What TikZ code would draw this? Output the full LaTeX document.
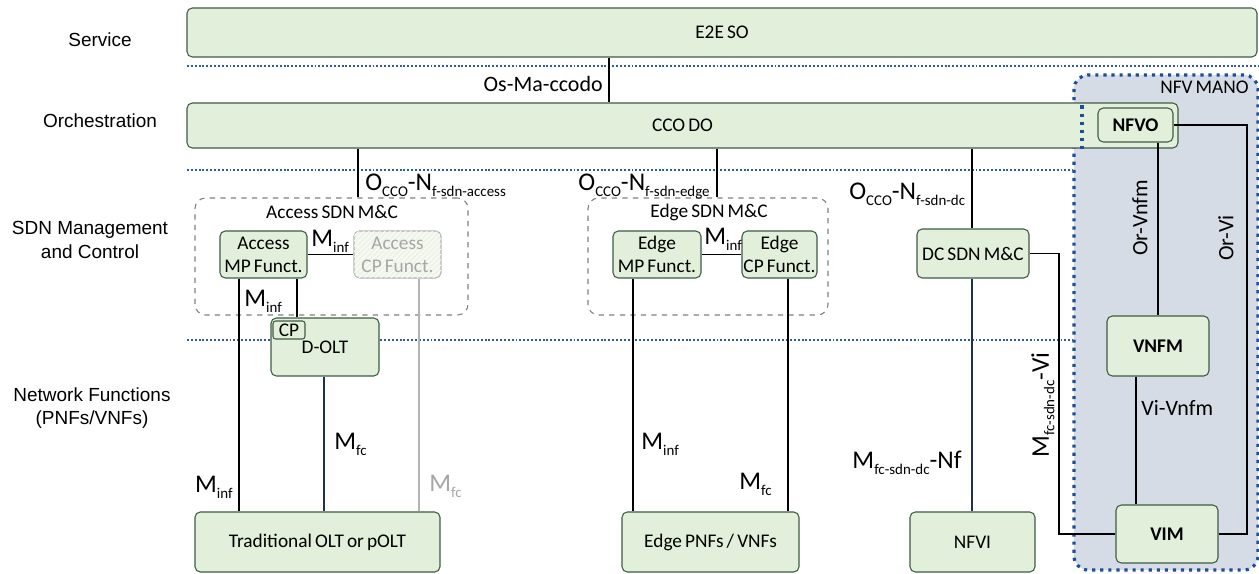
\documentclass[tikz,border=0pt]{standalone}
\usepackage{fontspec}
\setmainfont{Carlito}[WordSpace=0.7]
\newfontfamily\layerfont{Liberation Sans}
\usetikzlibrary{patterns}

\definecolor{boxfill}{HTML}{E2EFDA}
\definecolor{boxline}{HTML}{3E5A44}
\definecolor{manofill}{HTML}{D6DCE5}
\definecolor{manoline}{HTML}{1F4E99}
\definecolor{layerline}{HTML}{2E5C9E}
\definecolor{navyline}{HTML}{1F2F4F}
\definecolor{fadedline}{HTML}{B4B4B4}
\definecolor{fadedtext}{HTML}{A6A6A6}
\definecolor{fadedfill}{HTML}{EEF4E8}
\definecolor{groupline}{HTML}{7F7F7F}

% lowered subscript in the label font
\newcommand\lsub[1]{\raisebox{-0.45ex}{\fontsize{8.5}{9}\selectfont #1}}
% rectangle node given by its corners: style, name, x1, y1, x2, y2, text
\newcommand\pxbox[7]{%
  \node[#1, minimum width={(#5-#3)*0.02cm}, minimum height={(#6-#4)*0.02cm}]
    (#2) at ({(#3+#5)/2},{(#4+#6)/2}) {#7};}

\tikzset{
  box/.style={draw=boxline, fill=boxfill, rounded corners=3pt, line width=0.6pt,
    inner sep=0pt, font=\fontsize{11}{13}\selectfont, align=center},
  boldbox/.style={box, font=\fontsize{11}{13}\selectfont\bfseries},
  fadedbox/.style={box, draw=fadedline, fill=fadedfill, text=fadedtext,
    postaction={pattern=north east lines, pattern color=white}},
  group/.style={draw=groupline, dashed, rounded corners=6pt, line width=0.6pt, inner sep=0pt},
  grouptitle/.style={inner sep=0pt, font=\fontsize{11}{13}\selectfont},
  conn/.style={line width=1.1pt, black},
  layersep/.style={draw=layerline, line width=1.1pt, dash pattern=on 1.1pt off 1.1pt},
  manoborder/.style={draw=manoline, line width=1.8pt, dash pattern=on 1.8pt off 2.8pt},
  manoarea/.style={fill=manofill, rounded corners=8pt, inner sep=0pt},
  lbl/.style={inner sep=0pt, font=\fontsize{14.5}{15}\selectfont},
  ilbl/.style={inner sep=0pt, font=\fontsize{12.5}{14}\selectfont},
  layer/.style={inner sep=0pt, font=\layerfont\fontsize{10.8}{13.5}\selectfont, align=center}
}

\begin{document}
\begin{tikzpicture}[x=0.02cm, y=-0.02cm]
\useasboundingbox (0,0) rectangle (1259,574);

% layer names
\node[layer] (lyService) at (100,40) {Service};
\node[layer] (lyOrch) at (100,121) {Orchestration};
\node[layer] (lySdn) at (90,240) {SDN Management\\and Control};
\node[layer] (lyNf) at (92,408) {Network Functions\\(PNFs/VNFs)};

% NFV MANO area
\pxbox{manoarea, manoborder}{mano}{1074}{75}{1258}{570}{}
\node[inner sep=0pt, anchor=east, font=\fontsize{11}{13}\selectfont] (lMano) at (1249,87) {NFV MANO};

% layer separators
\draw[layersep] (187,66) -- (1259,66);
\draw[layersep] (187,170) -- (mano.west |- 0,170);
\draw[layersep] (187,340) -- (mano.west |- 0,340);

% x positions of the vertical connectors
\coordinate (xOs) at (609,0);
\coordinate (xAcc) at (358,0);
\coordinate (xEdg) at (717,0);
\coordinate (xDC) at (972,0);
\coordinate (xMPtrad) at (239,0);
\coordinate (xMPdolt) at (297,0);
\coordinate (xDoltTrad) at (324,0);
\coordinate (xCPtrad) at (419,0);
\coordinate (xEMP) at (633,0);
\coordinate (xECP) at (788,0);
\coordinate (xNfvoVnfm) at (1158,0);
\coordinate (xVnfmVim) at (1136,0);
\coordinate (xDV) at (1059,0);
\coordinate (xOV) at (1247,0);
\coordinate (xMano) at (1082,0);

% top layers
\pxbox{box}{e2e}{187}{8}{1257}{57}{E2E SO}
\pxbox{box}{cco}{187}{103}{1178}{148}{CCO DO}
\draw[manoborder] (cco.north -| xMano) ++(0,3) -- (cco.south -| xMano);
\pxbox{boldbox}{nfvo}{1098}{108}{1173}{142}{NFVO}

% SDN groups
\pxbox{group}{accgrp}{195}{198}{468}{315}{}
\node[grouptitle] (accgrpT) at (332,212) {Access SDN M\&C};
\pxbox{group}{edggrp}{588}{198}{828}{315}{}
\node[grouptitle] (edggrpT) at (709,212) {Edge SDN M\&C};

\pxbox{box}{accmp}{220}{231}{307}{278}{Access\\MP Funct.}
\pxbox{fadedbox}{acccp}{354}{231}{441}{278}{Access\\CP Funct.}
\pxbox{box}{edgmp}{613}{231}{701}{278}{Edge\\MP Funct.}
\pxbox{box}{edgcp}{742}{231}{817}{278}{Edge\\CP Funct.}
\pxbox{box}{dc}{917}{229}{1029}{278}{DC SDN M\&C}

% D-OLT with its CP part
\pxbox{box}{dolt}{271}{318}{379}{376}{D-OLT}
\pxbox{box, rounded corners=1.5pt}{cp}{273}{321}{305}{339}{CP}

% MANO blocks
\pxbox{boldbox}{vnfm}{1107}{316}{1209}{376}{VNFM}
\pxbox{boldbox}{vim}{1116}{505}{1218}{563}{VIM}

% network functions
\pxbox{box}{trad}{195}{512}{440}{572}{Traditional OLT or pOLT}
\pxbox{box}{edgpnf}{622}{512}{799}{572}{Edge PNFs / VNFs}
\pxbox{box}{nfvi}{910}{512}{1035}{572}{NFVI}

% connectors
\draw[conn] (e2e.south -| xOs) -- (cco.north -| xOs);
\draw[conn] (cco.south -| xAcc) -- (accgrp.north -| xAcc);
\draw[conn] (cco.south -| xEdg) -- (edggrp.north -| xEdg);
\draw[conn] (cco.south -| xDC) -- (dc.north -| xDC);
\draw[conn] (accmp.east) -- (acccp.west);
\draw[conn] (edgmp.east) -- (edgcp.west);
\draw[conn] (accmp.south -| xMPtrad) -- (trad.north -| xMPtrad);
\draw[conn] (accmp.south -| xMPdolt) -- (dolt.north -| xMPdolt);
\draw[conn, navyline] (dolt.south -| xDoltTrad) -- (trad.north -| xDoltTrad);
\draw[conn, fadedline] (acccp.south -| xCPtrad) -- (trad.north -| xCPtrad);
\draw[conn] (edgmp.south -| xEMP) -- (edgpnf.north -| xEMP);
\draw[conn] (edgcp.south -| xECP) -- (edgpnf.north -| xECP);
\draw[conn, navyline] (dc.south -| xDC) -- (nfvi.north -| xDC);
\draw[conn] (dc.east) -- (dc.east -| xDV) -- (xDV |- vim.west) -- (vim.west);
\draw[conn] (nfvo.south -| xNfvoVnfm) -- (vnfm.north -| xNfvoVnfm);
\draw[conn] (vnfm.south -| xVnfmVim) -- (vim.north -| xVnfmVim);
\draw[conn] (nfvo.east) -- (nfvo.east -| xOV) -- (xOV |- vim.east) -- (vim.east);

% interface labels
\node[ilbl, anchor=base east] (lOs) at (603,92) {Os-Ma-ccodo};
\node[lbl, anchor=base west] (lAcc) at (365,191) {O\lsub{CCO}-N\lsub{f-sdn-access}};
\node[lbl, anchor=base east] (lEdg) at (710,191) {O\lsub{CCO}-N\lsub{f-sdn-edge}};
\node[lbl, anchor=base west] (lDC) at (849,200) {O\lsub{CCO}-N\lsub{f-sdn-dc}};
\node[lbl, anchor=base west] (lAMinf) at (311,247) {M\lsub{inf}};
\node[lbl, anchor=base west] (lAMinf2) at (244,307) {M\lsub{inf}};
\node[lbl, anchor=base east] (lTMinf) at (233,493) {M\lsub{inf}};
\node[lbl, anchor=base west] (lDMfc) at (334,450) {M\lsub{fc}};
\node[lbl, anchor=base west, text=fadedtext] (lGMfc) at (429,492) {M\lsub{fc}};
\node[lbl, anchor=base west] (lEMinf) at (704,245) {M\lsub{inf}};
\node[lbl, anchor=base west] (lEMinf2) at (641,450) {M\lsub{inf}};
\node[lbl, anchor=base east] (lEMfc) at (772,490) {M\lsub{fc}};
\node[lbl, anchor=base east] (lNf) at (962,469) {M\lsub{fc-sdn-dc}-Nf};
\node[lbl, rotate=90] (lVi) at (1043,405) {M\lsub{fc-sdn-dc}-Vi};
\node[ilbl, rotate=90] (lOrVnfm) at (1140,218) {Or-Vnfm};
\node[ilbl, rotate=90] (lOrVi) at (1226,238) {Or-Vi};
\node[ilbl, anchor=west] (lViVnfm) at (1141,408) {Vi-Vnfm};

\end{tikzpicture}
\end{document}
